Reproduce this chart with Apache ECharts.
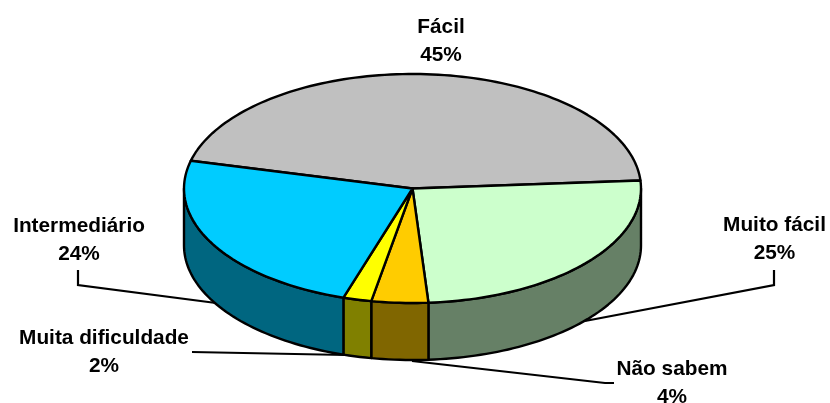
<!DOCTYPE html>
<html>
<head>
<meta charset="utf-8">
<style>html,body{margin:0;padding:0;background:#fff}#c{width:830px;height:403px}</style>
<script src="https://cdn.jsdelivr.net/npm/echarts@6/dist/echarts.min.js"></script>
</head>
<body>
<div id="c"></div>
<script>
const categories = ['Fácil', 'Muito fácil', 'Não sabem', 'Muita dificuldade', 'Intermediário'];
const percents = [45, 25, 4, 2, 24];
const topColors = ['#C0C0C0', '#CCFFCC', '#FFCC00', '#FFFF00', '#00CCFF'];
const sideColors = ['#606060', '#668066', '#806600', '#808000', '#006680'];

// Layout of the tilted pie
const CX = 412.5, CY = 188.5, RX = 228.5, RY = 114.5, DEPTH = 57, START_DEG = 166;
const FONT = 'bold 20.8px "Liberation Sans", Arial, sans-serif';
const LINE_GAP = 28;
const labelAt = [[441, 27], [774.5, 225], [672, 369], [104, 338], [79, 226]];
const leaders = [
  null,
  [[774, 270], [774, 285], [585, 321]],
  [[412, 361], [605, 383], [614, 383]],
  [[192, 352], [346, 355]],
  [[78, 270], [78, 285], [216, 303]]
];

const total = percents.reduce((a, b) => a + b, 0);
const px = (deg, dy) => [CX + RX * Math.cos(deg * Math.PI / 180), CY - RY * Math.sin(deg * Math.PI / 180) + (dy || 0)];
function arc(from, to, dy) {
  const n = Math.max(2, Math.ceil(Math.abs(to - from) / 1.5));
  const out = [];
  for (let i = 0; i <= n; i++) out.push(px(from + (to - from) * i / n, dy));
  return out;
}

function renderItem(params, api) {
  const i = params.dataIndex;
  let before = 0;
  for (let k = 0; k < i; k++) before += percents[k];
  const a0 = START_DEG - before / total * 360;
  const a1 = a0 - api.value(0) / total * 360;
  const children = [];
  const stroke = { stroke: '#000', lineWidth: 2.4, lineJoin: 'round' };

  if (leaders[i]) {
    children.push({
      type: 'polyline', z2: 1,
      shape: { points: leaders[i] },
      style: { stroke: '#000', lineWidth: 2.2, fill: null }
    });
  }
  // Visible front wall: the part of the slice's arc in the lower half of the ellipse.
  const ranges = [[Math.min(a0, 0), Math.max(a1, -180)]];
  ranges.forEach(([f, t]) => {
    if (f > t) {
      children.push({
        type: 'polygon', z2: 5,
        shape: { points: arc(f, t, 0).concat(arc(t, f, DEPTH)) },
        style: Object.assign({ fill: sideColors[i] }, stroke)
      });
    }
  });
  children.push({
    type: 'polygon', z2: 10,
    shape: { points: [[CX, CY]].concat(arc(a0, a1, 0)) },
    style: Object.assign({ fill: topColors[i] }, stroke)
  });
  const [lx, ly] = labelAt[i];
  [categories[i], api.value(0) + '%'].forEach((t, j) => {
    children.push({
      type: 'text', z2: 20,
      style: { x: lx, y: ly + j * LINE_GAP, text: t, font: FONT, fill: '#000', align: 'center', verticalAlign: 'middle' }
    });
  });
  return { type: 'group', children };
}

const chart = echarts.init(document.getElementById('c'), null, { renderer: 'canvas' });
chart.setOption({
  animation: false,
  backgroundColor: '#fff',
  series: [{
    type: 'custom',
    coordinateSystem: 'none',
    renderItem,
    silent: true,
    data: percents.map((v, i) => ({ name: categories[i], value: [v] }))
  }]
});
</script>
</body>
</html>
